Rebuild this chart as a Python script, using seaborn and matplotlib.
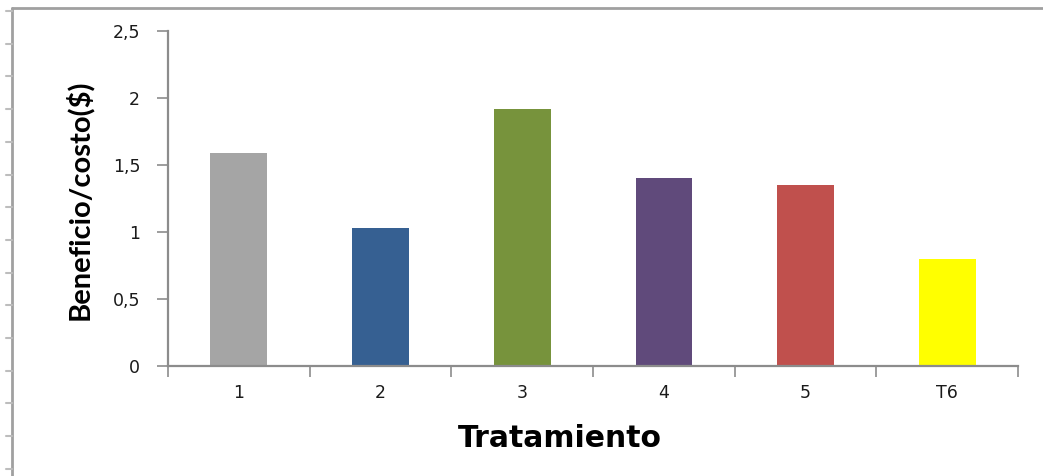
import numpy as np
import pandas as pd
import matplotlib
matplotlib.use("Agg")
import matplotlib.pyplot as plt
from matplotlib.lines import Line2D
import seaborn as sns

# Benefit/cost ratio per treatment
tratamientos = ["1", "2", "3", "4", "5", "T6"]
beneficio_costo = [1.59, 1.03, 1.92, 1.40, 1.35, 0.80]
colores = ["#A5A5A5", "#366092", "#77933C", "#604A7B", "#C0504D", "#FFFF00"]
yticks = [0, 0.5, 1, 1.5, 2, 2.5]
yticklabels = ["0", "0,5", "1", "1,5", "2", "2,5"]

df = pd.DataFrame({"Tratamiento": tratamientos, "BC": beneficio_costo})

sns.set_theme(style="white")
plt.rcParams["font.family"] = ["DejaVu Sans"]

W, H = 1043, 476
fig = plt.figure(figsize=(W / 100, H / 100), dpi=100)
fig.patch.set_facecolor("white")

x0, x1, ytop, ybot = 168, 1018, 31, 366
ax = fig.add_axes([x0 / W, 1 - ybot / H, (x1 - x0) / W, (ybot - ytop) / H])

sns.barplot(data=df, x="Tratamiento", y="BC", hue="Tratamiento",
            palette=colores, width=0.4, legend=False, ax=ax,
            saturation=1, edgecolor="none")

ax.set_ylim(0, 2.5)
ax.set_xlim(-0.5, len(tratamientos) - 0.5)
ax.set_yticks(yticks)
ax.set_yticklabels(yticklabels)

axis_gray = "#8C8C8C"
for side in ["top", "right"]:
    ax.spines[side].set_visible(False)
for side in ["left", "bottom"]:
    ax.spines[side].set_color(axis_gray)
    ax.spines[side].set_linewidth(1.6)

# category boundary ticks on the x axis
ax.set_xticks(np.arange(-0.5, len(tratamientos) + 0.5, 1), minor=True)
ax.tick_params(axis="x", which="minor", direction="out", length=8,
               width=1.2, color=axis_gray, bottom=True)
ax.tick_params(axis="x", which="major", length=0, pad=13,
               labelsize=12.5, labelcolor="#1a1a1a")
ax.tick_params(axis="y", which="major", direction="out", length=8,
               width=1.2, color=axis_gray, left=True, pad=12,
               labelsize=12.5, labelcolor="#1a1a1a")

ax.set_xlabel("Tratamiento", fontsize=21.5, fontweight="bold", color="black")
ax.xaxis.set_label_coords((560 - x0) / (x1 - x0), (ybot - 424) / (ybot - ytop))
ax.set_ylabel("Beneficio/costo($)", fontsize=21, color="black",
              family=["Lato", "DejaVu Sans"], fontweight="bold")
ax.yaxis.set_label_coords((93 - x0) / (x1 - x0), (ybot - 200) / (ybot - ytop))

# frame around the chart area with small ruler marks on the left edge
frame_gray = "#A0A0A0"
fig.add_artist(Line2D([12 / W, 1], [1 - 8 / H, 1 - 8 / H],
                      transform=fig.transFigure, color=frame_gray, lw=2))
fig.add_artist(Line2D([12 / W, 12 / W], [1 - 8 / H, 0],
                      transform=fig.transFigure, color=frame_gray, lw=2))
for yy in np.arange(11, 472, 32.7):
    fig.add_artist(Line2D([6 / W, 12 / W], [1 - yy / H, 1 - yy / H],
                          transform=fig.transFigure, color="#BDBDBD", lw=1.5))

fig.savefig("out.png", dpi=100, facecolor="white")
